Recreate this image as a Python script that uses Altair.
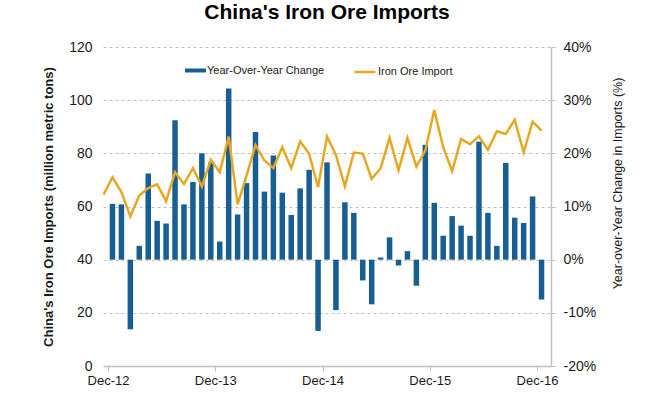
import altair as alt
import pandas as pd

# Month labels, Nov-12 through Dec-16 (Nov-12 only feeds the start of the import line)
months = [d.strftime("%b-%y") for d in pd.date_range("2012-11-01", "2016-12-01", freq="MS")]

# Monthly iron ore imports, million metric tons (Nov-12 .. Dec-16)
imports = [
    64.4,
    71.0, 65.4, 56.3, 64.1, 66.9, 68.3, 62.0, 72.9, 68.5, 74.4, 67.5, 77.6,
    72.9, 86.3, 60.8, 71.6, 83.1, 77.3, 74.5, 82.3, 74.5, 84.5, 79.8, 67.3,
    86.3, 79.4, 67.6, 80.3, 79.9, 70.4, 74.4, 85.8, 73.6, 85.8, 75.0, 81.0,
    96.3, 82.3, 73.3, 85.4, 83.4, 86.4, 81.3, 88.3, 87.3, 92.6, 80.4, 91.9, 88.5,
]

# Year-over-year change in imports, % (Dec-12 .. Dec-16)
yoy_change = [
    10.5, 10.4, -13.1, 2.6, 16.2, 7.3, 6.8, 26.2, 10.4, 14.6, 20.0, 18.3,
    3.4, 32.2, 8.5, 14.4, 24.0, 12.8, 19.6, 12.6, 8.4, 13.4, 16.9, -13.4,
    18.3, -9.5, 10.8, 8.8, -3.9, -8.4, 0.4, 4.2, -1.1, 1.6, -4.9, 21.6,
    10.7, 4.5, 8.2, 6.4, 4.5, 22.2, 8.8, 2.6, 18.2, 7.9, 6.9, 11.9, -7.5,
]

x_tick_labels = ["Dec-12", "Dec-13", "Dec-14", "Dec-15", "Dec-16"]

BLUE = "#175e92"
GOLD = "#e6a823"
GRID = "#bfbfbf"
TEXT = "#1a1a1a"
FONT = "Liberation Sans"

# month index: 0 = Dec-12; bars and line points sit at the middle of each month
line_df = pd.DataFrame({
    "month": months,
    "pos": [i - 1 + 0.5 for i in range(len(months))],
    "imports": imports,
    "series": "Iron Ore Import",
})
bar_df = pd.DataFrame({
    "month": months[1:],
    "pos": [i + 0.5 for i in range(len(yoy_change))],
    "yoy": yoy_change,
    "series": "Year-Over-Year Change",
})

label_expr = "[" + ",".join(f"'{t}'" for t in x_tick_labels) + "][round(datum.value / 12)]"

x_enc = alt.X(
    "pos:Q",
    scale=alt.Scale(domain=[0, 49], nice=False, zero=False),
    axis=alt.Axis(
        values=[0, 12, 24, 36, 48],
        labelExpr=label_expr,
        title=None,
        grid=False,
        domainColor=GRID,
        domainWidth=1.5,
        tickColor=GRID,
        tickSize=5,
        labelPadding=3,
        labelFontSize=13,
        labelFont=FONT,
        labelColor=TEXT,
    ),
)

bars = alt.Chart(bar_df).mark_bar(size=5.5).encode(
    x=x_enc,
    y=alt.Y(
        "yoy:Q",
        scale=alt.Scale(domain=[-20, 40], nice=False),
        axis=alt.Axis(
            orient="right",
            values=[-20, -10, 0, 10, 20, 30, 40],
            labelExpr="datum.value + '%'",
            grid=False,
            domainColor=GRID,
            domainWidth=1.5,
            tickColor=GRID,
            tickSize=4,
            labelPadding=8,
            labelFontSize=14,
            labelFont=FONT,
            labelColor=TEXT,
            title="Year-over-Year  Change in Imports (%)",
            titleFont=FONT,
            titleFontSize=12.5,
            titleFontWeight="normal",
            titleColor=TEXT,
            titleAngle=270,
            titleAlign="center",
            titleBaseline="middle",
            titleX=66,
            titleY=136,
        ),
    ),
    fill=alt.Fill(
        "series:N",
        scale=alt.Scale(domain=["Year-Over-Year Change"], range=[BLUE]),
        legend=alt.Legend(
            orient="none",
            legendX=82,
            legendY=13,
            title=None,
            direction="horizontal",
            symbolType="M-1,-0.19H1V0.19H-1Z",
            symbolSize=441,
            symbolStrokeWidth=0,
            labelOffset=1,
            labelFontSize=11,
            labelFont=FONT,
            labelColor=TEXT,
            padding=0,
        ),
    ),
)

line = alt.Chart(line_df).mark_line(clip=True, strokeWidth=2.5).encode(
    x=x_enc,
    y=alt.Y(
        "imports:Q",
        scale=alt.Scale(domain=[0, 120], nice=False),
        axis=alt.Axis(
            orient="left",
            values=[0, 20, 40, 60, 80, 100, 120],
            grid=True,
            gridColor=GRID,
            gridDash=[3, 3],
            gridWidth=1,
            domain=False,
            ticks=False,
            labelPadding=11,
            labelFontSize=14,
            labelFont=FONT,
            labelColor=TEXT,
            title="China's Iron Ore Imports (million metric tons)",
            titleFont=FONT,
            titleFontSize=13,
            titleFontWeight="bold",
            titleColor=TEXT,
            titleAngle=270,
            titleAlign="center",
            titleBaseline="middle",
            titleX=-55,
            titleY=159.5,
        ),
    ),
    stroke=alt.Stroke(
        "series:N",
        scale=alt.Scale(domain=["Iron Ore Import"], range=[GOLD]),
        legend=alt.Legend(
            orient="none",
            legendX=250,
            legendY=13,
            title=None,
            direction="horizontal",
            symbolType="stroke",
            symbolSize=441,
            symbolStrokeWidth=2.5,
            labelOffset=1,
            labelFontSize=11,
            labelFont=FONT,
            labelColor=TEXT,
            padding=0,
        ),
    ),
)

chart = (
    alt.layer(bars, line)
    .resolve_scale(y="independent", fill="independent", stroke="independent")
    .properties(
        width=448,
        height=319,
        autosize=alt.AutoSizeParams(type="none"),
        padding={"left": 103, "top": 47, "right": 109, "bottom": 36},
        title=alt.TitleParams(
            "China's Iron Ore Imports",
            font=FONT,
            fontSize=21,
            fontWeight="bold",
            color="#000000",
            anchor="middle",
            baseline="alphabetic",
            offset=0,
        ),
        background="white",
    )
    .configure_view(stroke=None)
)

chart.save("out.html", embed_options={"renderer": "svg", "actions": False})
